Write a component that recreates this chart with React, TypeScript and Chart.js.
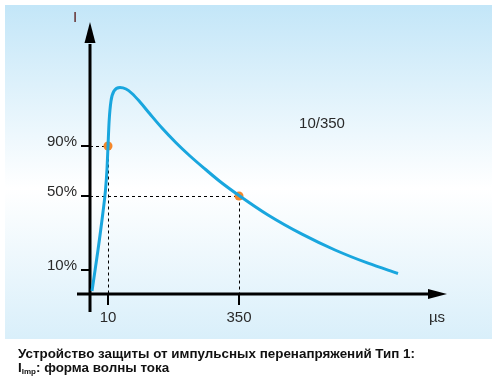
import React, { useEffect, useRef } from "react";
import { Chart, registerables } from "chart.js";

Chart.register(...registerables);

// Schematic units: x = horizontal distance from the I axis, y = height above the time axis
const curveX = [2, 8, 13, 15.5, 17, 18, 19.2, 21, 24, 30, 36, 42, 50, 60, 72, 86, 100, 115, 130, 149, 178, 212, 245, 278, 308];
const curveY = [3, 44, 82, 104, 125, 148, 174, 193, 203, 206.5, 205, 200.5, 192, 180, 166, 151.3, 138, 125, 112.5, 98.5, 79, 59.8, 44, 30.8, 20.5];
const markerX = [18, 149];
const markerY = [148, 98];
const yTickPos = [24, 98, 148];
const yTickLabels = ["10%", "50%", "90%"];
const xTickPos = [18, 149];
const xTickLabels = ["10", "350"];
const xUnit = "µs";
const yUnit = "I";
const waveLabel = "10/350";
const captionLine1 = "Устройство защиты от импульсных перенапряжений Тип 1:";
const captionSub = "Imp";
const captionLine2 = ": форма волны тока";

const LABEL_FONT = '15px "Liberation Sans", Arial, sans-serif';

const decoPlugin = {
  id: "deco",
  beforeDraw(chart: any) {
    const ctx = chart.ctx as CanvasRenderingContext2D;
    ctx.save();
    const g = ctx.createLinearGradient(0, 5, 0, 339);
    g.addColorStop(0, "#c3e6f8");
    g.addColorStop(0.55, "#ffffff");
    g.addColorStop(1, "#d9effa");
    ctx.fillStyle = g;
    ctx.fillRect(5, 5, 487, 334);
    ctx.restore();
  },
  beforeDatasetsDraw(chart: any) {
    const ctx = chart.ctx as CanvasRenderingContext2D;
    const xs = chart.scales.x;
    const ys = chart.scales.y;
    const px = (v: number) => xs.getPixelForValue(v);
    const py = (v: number) => ys.getPixelForValue(v);
    const x0 = px(0);
    const y0 = py(0);
    ctx.save();

    // dashed guide lines
    ctx.strokeStyle = "#000";
    ctx.lineWidth = 1;
    ctx.setLineDash([3, 3]);
    for (let i = 0; i < markerX.length; i++) {
      const mx = Math.round(px(markerX[i])) + 0.5;
      const my = Math.round(py(markerY[i])) + 0.5;
      ctx.beginPath();
      ctx.moveTo(x0, my);
      ctx.lineTo(mx, my);
      ctx.moveTo(mx, my);
      ctx.lineTo(mx, y0);
      ctx.stroke();
    }
    ctx.setLineDash([]);

    // axes
    ctx.fillStyle = "#000";
    ctx.lineWidth = 3;
    ctx.beginPath();
    ctx.moveTo(x0, py(-18));
    ctx.lineTo(x0, py(250));
    ctx.moveTo(px(-13), y0);
    ctx.lineTo(px(340), y0);
    ctx.stroke();
    // arrow heads
    ctx.beginPath();
    ctx.moveTo(x0, py(272));
    ctx.lineTo(x0 - 5.5, py(251));
    ctx.lineTo(x0 + 5.5, py(251));
    ctx.closePath();
    ctx.fill();
    ctx.beginPath();
    ctx.moveTo(px(357), y0);
    ctx.lineTo(px(338), y0 - 5);
    ctx.lineTo(px(338), y0 + 5);
    ctx.closePath();
    ctx.fill();

    // ticks
    ctx.lineWidth = 2;
    ctx.beginPath();
    yTickPos.forEach((v) => {
      ctx.moveTo(x0 - 9, py(v));
      ctx.lineTo(x0, py(v));
    });
    xTickPos.forEach((v) => {
      ctx.moveTo(px(v), y0);
      ctx.lineTo(px(v), y0 + 11);
    });
    ctx.stroke();

    // labels
    ctx.font = LABEL_FONT;
    ctx.fillStyle = "#2a2a2a";
    ctx.textBaseline = "middle";
    ctx.textAlign = "right";
    yTickPos.forEach((v, i) => ctx.fillText(yTickLabels[i], x0 - 13, py(v) - 4));
    ctx.textAlign = "center";
    xTickPos.forEach((v, i) => ctx.fillText(xTickLabels[i], px(v), y0 + 24));
    ctx.fillText(xUnit, px(347), y0 + 24);
    ctx.fillText(waveLabel, px(232), py(170));
    ctx.fillStyle = "#5a2020";
    ctx.fillText(yUnit, x0 - 15, py(276));
    ctx.restore();
  },
};

export default function App() {
  const canvasRef = useRef<HTMLCanvasElement | null>(null);

  useEffect(() => {
    if (!canvasRef.current) return;
    const chart = new Chart(canvasRef.current, {
      type: "line",
      data: {
        datasets: [
          {
            data: curveX.map((x, i) => ({ x, y: curveY[i] })),
            borderColor: "#19a6de",
            borderWidth: 3,
            pointRadius: 0,
            fill: false,
            cubicInterpolationMode: "monotone",
            clip: false as any,
          },
          {
            data: markerX.map((x, i) => ({ x, y: markerY[i] })),
            showLine: false,
            pointRadius: 4.5,
            pointBackgroundColor: "#f5872a",
            pointBorderWidth: 0,
            borderColor: "#f5872a",
            clip: false as any,
          },
        ],
      },
      options: {
        responsive: false,
        animation: false,
        devicePixelRatio: 1,
        layout: { padding: 0, autoPadding: false },
        plugins: { legend: { display: false }, tooltip: { enabled: false } },
        scales: {
          x: { type: "linear", min: -90, max: 406, display: false },
          y: { type: "linear", min: -87, max: 294, display: false },
        },
      },
      plugins: [decoPlugin],
    });
    return () => chart.destroy();
  }, []);

  return (
    <div style={{ position: "absolute", left: 0, top: 0, width: 496, height: 381, background: "#fff" }}>
      <canvas ref={canvasRef} width={496} height={381} style={{ display: "block" }} />
      <div
        style={{
          position: "absolute",
          left: 18,
          top: 347,
          font: 'bold 13.4px "Liberation Sans", Arial, sans-serif',
          lineHeight: "14px",
          color: "#111",
          whiteSpace: "nowrap",
        }}
      >
        <div>{captionLine1}</div>
        <div>
          I<span style={{ fontSize: "8px", position: "relative", top: 2 }}>{captionSub}</span>
          {captionLine2}
        </div>
      </div>
    </div>
  );
}
